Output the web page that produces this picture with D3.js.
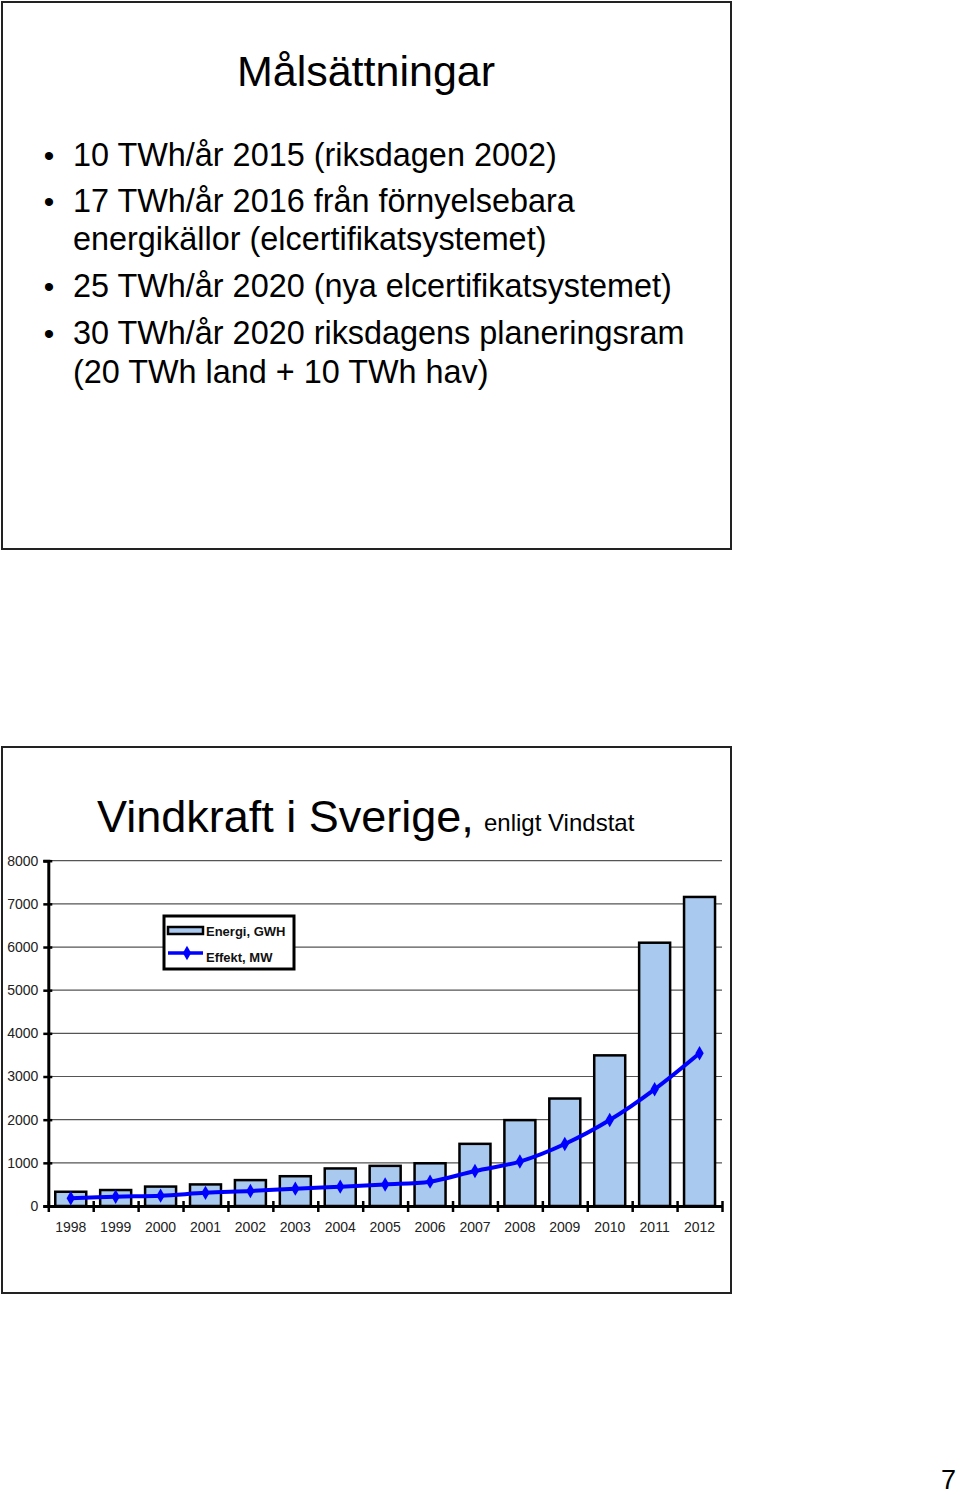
<!DOCTYPE html>
<html>
<head>
<meta charset="utf-8">
<script src="https://cdn.jsdelivr.net/npm/d3@7"></script>
<style>
  body { margin: 0; background: #fff; }
  text { font-family: "Liberation Sans", Arial, sans-serif; }
</style>
</head>
<body>
<svg class="page" width="960" height="1495"></svg>
<script>

var slideTitle = "Målsättningar";
var bulletLines = [
  { bullet: true,  text: "10 TWh/år 2015 (riksdagen 2002)" },
  { bullet: true,  text: "17 TWh/år 2016 från förnyelsebara" },
  { bullet: false, text: "energikällor (elcertifikatsystemet)" },
  { bullet: true,  text: "25 TWh/år 2020 (nya elcertifikatsystemet)" },
  { bullet: true,  text: "30 TWh/år 2020 riksdagens planeringsram" },
  { bullet: false, text: "(20 TWh land + 10 TWh hav)" }
];

var chartTitle = "Vindkraft i Sverige,";
var chartSubtitle = "enligt Vindstat";

var years     = ["1998", "1999", "2000", "2001", "2002", "2003", "2004", "2005",
                 "2006", "2007", "2008", "2009", "2010", "2011", "2012"];
var energiGWh = [ 330,  370,  450,  500,  600,  690,  870,  930,
                  990, 1440, 1990, 2490, 3490, 6100, 7160];
var effektMW  = [ 178,  216,  240,  305,  347,  402,  448,  500,
                  564,  811, 1030, 1437, 1993, 2704, 3538];
var yTicks    = [0, 1000, 2000, 3000, 4000, 5000, 6000, 7000, 8000];
var legendLabels = ["Energi, GWH", "Effekt, MW"];
var pageNumber = "7";

var page = d3.select(".page");

function drawSlides(){

  page.append("rect")
    .attr("x", 2).attr("y", 2)
    .attr("width", 729).attr("height", 547)
    .attr("fill", "#fff").attr("stroke", "#222").attr("stroke-width", 2);

  page.append("rect")
    .attr("x", 2).attr("y", 747)
    .attr("width", 729).attr("height", 546)
    .attr("fill", "#fff").attr("stroke", "#222").attr("stroke-width", 2);

  page.append("text")
    .attr("x", 366).attr("y", 86)
    .attr("text-anchor", "middle")
    .attr("font-size", 43)
    .text(slideTitle);

  var baselines = [166, 212, 250, 297, 344, 383];

  var rows = page.selectAll(".bulletRow")
    .data(bulletLines)
    .enter().append("g")
    .attr("class", "bulletRow");

  rows.filter(function(d) { return d.bullet; })
    .append("text")
    .attr("x", 49)
    .attr("y", function(d) { return baselines[bulletLines.indexOf(d)]; })
    .attr("text-anchor", "middle")
    .attr("font-size", 30)
    .text("•");

  rows.append("text")
    .attr("x", 73)
    .attr("y", function(d, i) { return baselines[i]; })
    .attr("font-size", 32.4)
    .text(function(d) { return d.text; });

  page.append("text")
    .attr("x", 956).attr("y", 1489)
    .attr("text-anchor", "end")
    .attr("font-size", 27)
    .text(pageNumber);
}

function drawChart(){

  var left = 48.3, right = 722, bottom = 1206, top = 860.7;

  var x = d3.scaleBand()
    .domain(years)
    .range([left, right])
    .paddingInner(0.31)
    .paddingOuter(0.155);

  var xEdge = d3.scaleLinear()
    .domain([0, years.length])
    .range([left, right]);

  var y = d3.scaleLinear()
    .domain([0, 8000])
    .range([bottom, top]);

  // titles
  page.append("text")
    .attr("x", 97).attr("y", 832)
    .attr("font-size", 45)
    .text(chartTitle);

  page.append("text")
    .attr("x", 484).attr("y", 831)
    .attr("font-size", 24)
    .text(chartSubtitle);

  // gridlines
  page.append("g")
    .selectAll("line")
    .data(yTicks.slice(1))
    .enter().append("line")
    .attr("x1", left).attr("x2", right)
    .attr("y1", function(d) { return y(d); })
    .attr("y2", function(d) { return y(d); })
    .attr("stroke", "#555")
    .attr("stroke-width", 1.2);

  // bars
  page.append("g")
    .selectAll("rect")
    .data(energiGWh)
    .enter().append("rect")
    .attr("x", function(d, i) { return x(years[i]); })
    .attr("y", function(d) { return y(d); })
    .attr("width", x.bandwidth())
    .attr("height", function(d) { return bottom - y(d); })
    .attr("fill", "#a9c9ef")
    .attr("stroke", "#000")
    .attr("stroke-width", 2.5);

  // y axis
  var yAxis = d3.axisLeft(y)
    .tickValues(yTicks)
    .tickFormat(d3.format("d"))
    .tickSize(5)
    .tickPadding(5);

  var gy = page.append("g")
    .attr("transform", "translate(" + left + ",0)")
    .call(yAxis);
  gy.select(".domain").attr("stroke", "#000").attr("stroke-width", 3);
  gy.selectAll(".tick line").attr("x2", 4).attr("x1", -5)
    .attr("stroke", "#000").attr("stroke-width", 2.5);
  gy.selectAll(".tick text")
    .attr("font-family", "Liberation Sans, Arial, sans-serif")
    .attr("font-size", 14).attr("fill", "#222");

  // x axis: labels at centres, ticks at category edges
  var xAxis = d3.axisBottom(x).tickSize(0).tickPadding(16);
  var gx = page.append("g")
    .attr("transform", "translate(0," + bottom + ")")
    .call(xAxis);
  gx.select(".domain").remove();
  gx.selectAll(".tick text")
    .attr("font-family", "Liberation Sans, Arial, sans-serif")
    .attr("font-size", 14).attr("fill", "#222");

  var edgeAxis = d3.axisBottom(xEdge)
    .ticks(years.length)
    .tickFormat("")
    .tickSizeOuter(0);
  var ge = page.append("g")
    .attr("transform", "translate(0," + bottom + ")")
    .call(edgeAxis);
  ge.select(".domain").attr("stroke", "#000").attr("stroke-width", 3);
  ge.selectAll(".tick line").attr("y1", -5).attr("y2", 6)
    .attr("stroke", "#000").attr("stroke-width", 2.5);

  // effekt line
  var lineFunction = d3.line()
    .x(function(d, i) { return x(years[i]) + x.bandwidth() / 2; })
    .y(function(d) { return y(d); })
    .curve(d3.curveCatmullRom);

  page.append("path")
    .attr("d", lineFunction(effektMW))
    .attr("stroke", "#0000ff")
    .attr("stroke-width", 4)
    .attr("fill", "none");

  var diamond = d3.symbol().type(d3.symbolDiamond).size(60);
  page.append("g")
    .selectAll("path")
    .data(effektMW)
    .enter().append("path")
    .attr("d", diamond)
    .attr("transform", function(d, i) {
      return "translate(" + (x(years[i]) + x.bandwidth() / 2) + "," + y(d) + ")";
    })
    .attr("fill", "#0000ff");

  // legend
  var legend = page.append("g").attr("transform", "translate(164,916)");
  legend.append("rect")
    .attr("width", 130).attr("height", 53)
    .attr("fill", "#fff").attr("stroke", "#000").attr("stroke-width", 3);
  legend.append("rect")
    .attr("x", 4).attr("y", 11).attr("width", 35).attr("height", 7)
    .attr("fill", "#a9c9ef").attr("stroke", "#000").attr("stroke-width", 2.5);
  legend.append("line")
    .attr("x1", 4).attr("x2", 39).attr("y1", 37).attr("y2", 37)
    .attr("stroke", "#0000ff").attr("stroke-width", 3.5);
  legend.append("path")
    .attr("d", diamond)
    .attr("transform", "translate(23,37)")
    .attr("fill", "#0000ff");
  legend.selectAll(".legendText")
    .data(legendLabels)
    .enter().append("text")
    .attr("class", "legendText")
    .attr("x", 42)
    .attr("y", function(d, i) { return 20 + i * 26; })
    .attr("font-size", 13)
    .attr("font-weight", "bold")
    .attr("fill", "#111")
    .text(function(d) { return d; });
}

drawSlides();
drawChart();

</script>
</body>
</html>
